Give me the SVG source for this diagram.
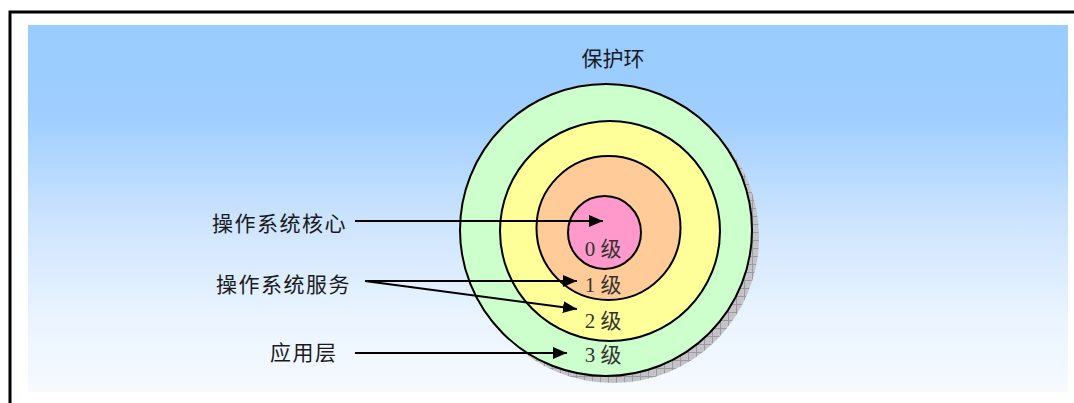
<svg xmlns="http://www.w3.org/2000/svg" width="1074" height="403" viewBox="0 0 1074 403">
<defs>
<linearGradient id="bg" x1="0" y1="0" x2="0" y2="1">
<stop offset="0" stop-color="#99CCFF"/>
<stop offset="0.25" stop-color="#9FCEFF"/>
<stop offset="0.55" stop-color="#CFE5FD"/>
<stop offset="0.8" stop-color="#EAF4FF"/>
<stop offset="1" stop-color="#F6FAFF"/>
</linearGradient>
<pattern id="hatch" width="8" height="8" patternUnits="userSpaceOnUse">
<rect width="8" height="8" fill="#C4C4C8"/>
<path d="M0,0.5 H8 M0.5,0 V8" stroke="#9A9AA0" stroke-width="1"/>
</pattern>
<marker id="ah" viewBox="0 0 14 12" refX="14" refY="6" markerWidth="14" markerHeight="12" markerUnits="userSpaceOnUse" orient="auto">
<path d="M0,0 L14,6 L0,12 Z" fill="#000"/>
</marker>
<style>
.lbl{font-family:"Liberation Serif","Noto Sans CJK SC",serif;font-size:21px;fill:#1a1a1a;}
.lvl{font-family:"Liberation Serif","Noto Sans CJK SC",serif;font-size:21px;fill:#333;text-anchor:middle;}
.ring{stroke:#000;stroke-width:2;}
.conn{stroke:#000;stroke-width:2;fill:none;marker-end:url(#ah);}
</style>
</defs>
<rect width="1074" height="403" fill="#fff"/>
<path d="M10,403 V12 H1074" fill="none" stroke="#000" stroke-width="3"/>
<rect x="28" y="25" width="1040" height="367" fill="url(#bg)"/>
<text class="lbl" x="613" y="66" text-anchor="middle">保护环</text>
<g id="shadow"><circle cx="613" cy="237" r="146" fill="url(#hatch)"/></g>
<g id="ring3"><circle class="ring" cx="606" cy="230" r="146" fill="#CCFFCC"/></g>
<g id="ring2"><circle class="ring" cx="610" cy="231" r="110" fill="#FFFF99"/></g>
<g id="ring1"><circle class="ring" cx="608.5" cy="228" r="72" fill="#FFCC99"/></g>
<g id="ring0"><circle class="ring" cx="604.5" cy="232.5" r="36.5" fill="#FF99CC"/></g>
<g id="lv0"><text class="lvl" x="603" y="256">0 级</text></g>
<g id="lv1"><text class="lvl" x="603" y="292">1 级</text></g>
<g id="lv2"><text class="lvl" x="603" y="328">2 级</text></g>
<g id="lv3"><text class="lvl" x="603" y="362">3 级</text></g>
<g id="kernel"><text class="lbl" x="212" y="231" letter-spacing="1.5">操作系统核心</text></g>
<g id="services"><text class="lbl" x="216" y="292" letter-spacing="1.5">操作系统服务</text></g>
<g id="app"><text class="lbl" x="270" y="360" letter-spacing="1.5">应用层</text></g>
<g id="connectors">
<path class="conn" d="M355,221 H603"/>
<path class="conn" d="M365,281 H577"/>
<path class="conn" d="M365,281 L577,309"/>
<path class="conn" d="M355,353 H567"/>
</g>
</svg>
